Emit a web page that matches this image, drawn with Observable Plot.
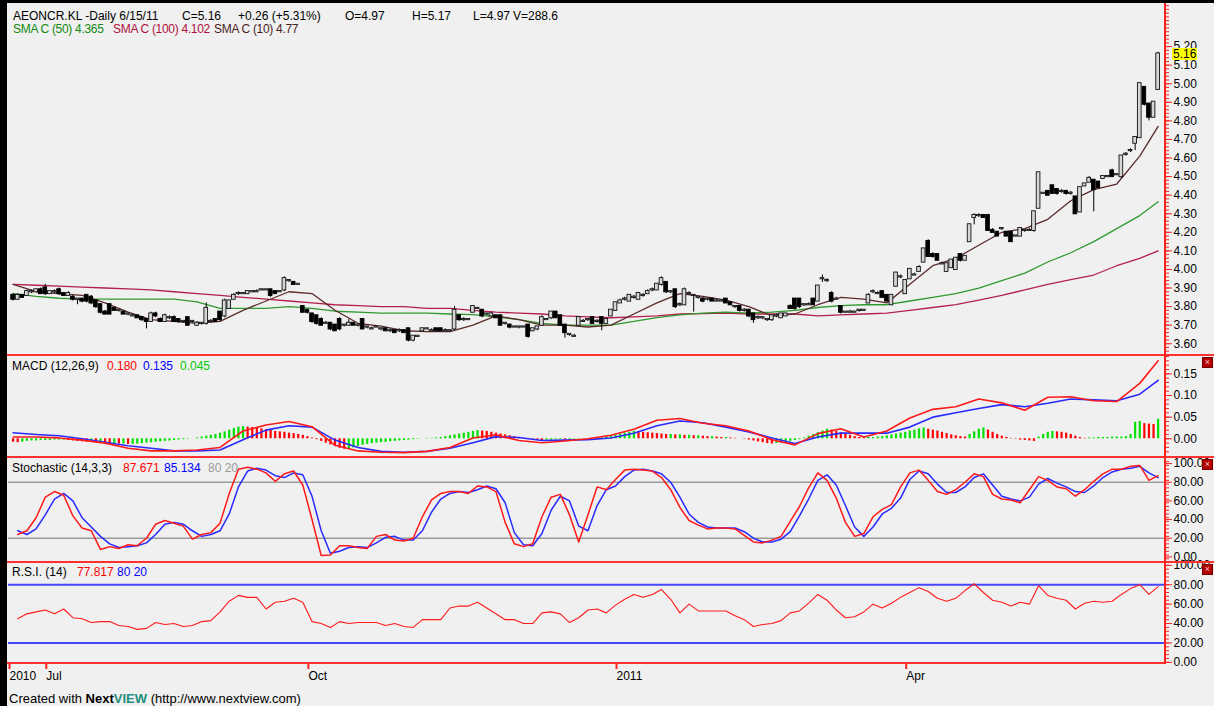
<!DOCTYPE html>
<html><head><meta charset="utf-8">
<script src="https://cdn.jsdelivr.net/npm/d3@7"></script>
<script src="https://cdn.jsdelivr.net/npm/@observablehq/plot@0.6"></script>
<style>
html,body{margin:0;padding:0;overflow:hidden;background:#f0f0f0;}
#chart{position:relative;width:1214px;height:706px;overflow:hidden;background:#f0f0f0;font-family:"Liberation Sans",Arial,sans-serif;font-size:12px;}
.t{position:absolute;white-space:nowrap;line-height:12px;font-size:12px;}
.bar{position:absolute;}
.xbox{position:absolute;width:9px;height:9px;background:#b00000;border:1px solid #700;color:#ffc0c0;font-size:9px;line-height:9px;text-align:center;}
</style></head>
<body><div id="chart"></div>
<script>
// ---------- DATA ----------
const opens = [
3.86,3.84,3.86,3.86,3.88,3.88,3.89,3.90,3.87,3.88,
3.89,3.87,3.86,3.85,3.84,3.84,3.86,3.85,3.83,3.81,
3.77,3.81,3.79,3.78,3.77,3.76,3.75,3.75,3.74,3.73,
3.72,3.76,3.73,3.72,3.74,3.74,3.73,3.72,3.74,3.72,
3.70,3.71,3.71,3.72,3.73,3.77,3.75,3.79,3.84,3.87,
3.87,3.87,3.88,3.88,3.89,3.89,3.89,3.88,3.88,3.89,
3.94,3.93,3.92,3.80,3.78,3.76,3.75,3.73,3.71,3.71,
3.70,3.73,3.70,3.70,3.71,3.70,3.73,3.69,3.68,3.69,
3.68,3.68,3.67,3.67,3.67,3.67,3.68,3.62,3.64,3.67,
3.68,3.67,3.68,3.68,3.67,3.67,3.68,3.75,3.73,3.73,
3.77,3.79,3.78,3.76,3.75,3.75,3.75,3.71,3.70,3.69,
3.69,3.69,3.70,3.67,3.68,3.70,3.73,3.74,3.77,3.75,
3.70,3.65,3.64,3.70,3.72,3.73,3.74,3.72,3.74,3.71,
3.75,3.78,3.82,3.84,3.83,3.85,3.84,3.86,3.87,3.89,
3.89,3.92,3.93,3.88,3.89,3.81,3.81,3.87,3.86,3.85,
3.84,3.84,3.84,3.83,3.83,3.84,3.82,3.80,3.80,3.78,
3.78,3.76,3.74,3.74,3.73,3.73,3.75,3.74,3.75,3.80,
3.84,3.84,3.81,3.81,3.84,3.83,3.95,3.94,3.87,3.84,
3.80,3.77,3.77,3.77,3.78,3.78,3.82,3.88,3.87,3.88,
3.86,3.81,3.91,3.96,3.87,3.95,3.97,3.99,4.04,4.15,
4.08,4.08,4.03,3.99,4.01,4.00,4.08,4.05,4.15,4.28,
4.29,4.29,4.29,4.21,4.20,4.22,4.20,4.20,4.18,4.18,
4.21,4.21,4.21,4.33,4.41,4.42,4.45,4.43,4.42,4.42,
4.41,4.39,4.31,4.45,4.47,4.48,4.47,4.49,4.50,4.53,
4.51,4.50,4.62,4.64,4.68,4.71,4.98,4.89,4.82,4.97];
const highs = [
3.87,3.87,3.86,3.89,3.89,3.89,3.90,3.92,3.88,3.89,
3.90,3.87,3.88,3.86,3.84,3.84,3.86,3.86,3.83,3.81,
3.78,3.81,3.79,3.78,3.77,3.76,3.76,3.75,3.74,3.73,
3.77,3.77,3.74,3.76,3.75,3.75,3.73,3.72,3.74,3.72,
3.72,3.71,3.82,3.73,3.73,3.77,3.84,3.83,3.87,3.88,
3.87,3.88,3.88,3.89,3.89,3.89,3.89,3.88,3.88,3.96,
3.94,3.93,3.92,3.80,3.78,3.76,3.75,3.74,3.72,3.71,
3.70,3.74,3.70,3.73,3.71,3.70,3.73,3.69,3.69,3.69,
3.68,3.68,3.68,3.67,3.68,3.67,3.68,3.64,3.64,3.68,
3.68,3.68,3.68,3.68,3.68,3.67,3.80,3.75,3.74,3.73,
3.80,3.79,3.78,3.76,3.77,3.75,3.75,3.71,3.70,3.69,
3.69,3.69,3.70,3.68,3.69,3.75,3.73,3.77,3.77,3.75,
3.70,3.65,3.65,3.74,3.73,3.73,3.74,3.73,3.74,3.73,
3.78,3.82,3.84,3.85,3.86,3.86,3.87,3.87,3.89,3.90,
3.92,3.96,3.93,3.88,3.89,3.82,3.90,3.88,3.86,3.85,
3.85,3.84,3.84,3.84,3.83,3.84,3.82,3.80,3.80,3.79,
3.78,3.76,3.75,3.74,3.73,3.75,3.76,3.76,3.76,3.81,
3.84,3.84,3.81,3.82,3.84,3.91,3.97,3.95,3.88,3.85,
3.80,3.77,3.78,3.77,3.78,3.78,3.87,3.89,3.88,3.88,
3.86,3.86,3.98,3.97,3.94,4.00,3.98,4.02,4.11,4.16,
4.09,4.08,4.04,4.03,4.05,4.06,4.08,4.07,4.24,4.30,
4.30,4.29,4.29,4.22,4.20,4.22,4.20,4.20,4.18,4.22,
4.21,4.22,4.31,4.52,4.41,4.42,4.45,4.43,4.43,4.42,
4.42,4.39,4.44,4.46,4.50,4.48,4.47,4.50,4.50,4.54,
4.51,4.61,4.63,4.65,4.71,5.00,4.98,4.89,4.90,5.17];
const lows = [
3.83,3.84,3.85,3.86,3.87,3.88,3.87,3.86,3.87,3.87,
3.86,3.86,3.86,3.83,3.81,3.82,3.82,3.81,3.79,3.76,
3.76,3.76,3.78,3.77,3.76,3.75,3.75,3.74,3.72,3.68,
3.72,3.74,3.72,3.72,3.73,3.72,3.71,3.71,3.70,3.71,
3.70,3.70,3.70,3.71,3.72,3.72,3.74,3.79,3.84,3.86,
3.87,3.87,3.88,3.88,3.89,3.89,3.85,3.87,3.88,3.88,
3.93,3.92,3.92,3.77,3.76,3.71,3.70,3.70,3.71,3.67,
3.67,3.67,3.69,3.70,3.70,3.69,3.68,3.68,3.68,3.69,
3.67,3.67,3.66,3.66,3.66,3.66,3.61,3.61,3.64,3.67,
3.68,3.67,3.67,3.67,3.67,3.67,3.67,3.72,3.72,3.73,
3.77,3.79,3.74,3.75,3.75,3.74,3.70,3.70,3.68,3.69,
3.68,3.69,3.63,3.67,3.67,3.70,3.73,3.73,3.74,3.70,
3.63,3.64,3.64,3.70,3.72,3.72,3.71,3.71,3.67,3.71,
3.75,3.78,3.82,3.83,3.83,3.84,3.84,3.85,3.87,3.88,
3.89,3.91,3.87,3.87,3.79,3.80,3.81,3.86,3.77,3.84,
3.82,3.83,3.83,3.83,3.83,3.82,3.81,3.79,3.77,3.77,
3.74,3.71,3.73,3.73,3.72,3.72,3.74,3.74,3.75,3.79,
3.78,3.79,3.80,3.81,3.81,3.83,3.93,3.93,3.82,3.84,
3.76,3.77,3.77,3.77,3.77,3.78,3.82,3.87,3.87,3.85,
3.83,3.81,3.91,3.95,3.87,3.95,3.97,3.99,4.04,4.07,
4.06,4.05,4.03,3.99,4.01,4.00,4.04,4.05,4.15,4.24,
4.28,4.28,4.21,4.20,4.18,4.21,4.18,4.15,4.18,4.18,
4.20,4.21,4.20,4.33,4.41,4.40,4.41,4.40,4.41,4.40,
4.40,4.30,4.31,4.45,4.47,4.31,4.44,4.49,4.50,4.50,
4.51,4.49,4.61,4.63,4.64,4.71,4.88,4.80,4.82,4.97];
const closes = [
3.84,3.86,3.85,3.88,3.88,3.89,3.87,3.87,3.88,3.88,
3.87,3.86,3.87,3.84,3.84,3.83,3.83,3.82,3.80,3.77,
3.76,3.76,3.78,3.78,3.76,3.76,3.75,3.74,3.73,3.72,
3.76,3.75,3.72,3.75,3.74,3.72,3.72,3.72,3.70,3.72,
3.71,3.71,3.79,3.72,3.72,3.73,3.83,3.83,3.86,3.87,
3.87,3.88,3.88,3.88,3.89,3.89,3.86,3.87,3.88,3.95,
3.94,3.92,3.92,3.77,3.77,3.72,3.71,3.70,3.71,3.68,
3.67,3.68,3.70,3.71,3.70,3.70,3.68,3.69,3.68,3.69,
3.68,3.67,3.67,3.66,3.67,3.66,3.62,3.64,3.64,3.68,
3.68,3.67,3.67,3.67,3.67,3.67,3.78,3.73,3.73,3.73,
3.80,3.79,3.75,3.76,3.76,3.74,3.70,3.71,3.69,3.69,
3.69,3.69,3.64,3.68,3.69,3.74,3.73,3.77,3.74,3.70,
3.66,3.65,3.64,3.74,3.72,3.73,3.71,3.72,3.71,3.73,
3.78,3.82,3.83,3.84,3.86,3.85,3.87,3.86,3.88,3.89,
3.92,3.95,3.88,3.88,3.80,3.81,3.89,3.87,3.86,3.85,
3.83,3.84,3.83,3.83,3.83,3.82,3.81,3.80,3.78,3.78,
3.75,3.73,3.74,3.74,3.73,3.75,3.75,3.76,3.76,3.79,
3.79,3.80,3.81,3.81,3.81,3.91,3.95,3.94,3.83,3.84,
3.77,3.77,3.77,3.77,3.78,3.78,3.86,3.88,3.87,3.85,
3.83,3.86,3.98,3.96,3.94,4.00,3.97,4.01,4.11,4.07,
4.07,4.05,4.03,4.03,4.05,4.06,4.05,4.07,4.24,4.29,
4.29,4.28,4.21,4.20,4.18,4.22,4.18,4.15,4.18,4.22,
4.21,4.21,4.31,4.52,4.41,4.40,4.41,4.41,4.42,4.41,
4.41,4.30,4.44,4.46,4.49,4.43,4.44,4.50,4.50,4.50,
4.51,4.61,4.62,4.64,4.71,5.00,4.89,4.82,4.90,5.16];

// moving averages, read every 5th trading day (last point = last day)
const sma10 = [3.92,3.88,3.87,3.86,3.82,3.77,3.73,3.72,3.71,3.72,3.78,3.83,3.88,3.87,3.78,3.71,3.695,3.67,3.665,3.665,3.70,3.75,3.73,3.70,3.70,3.69,3.70,3.76,3.82,3.87,3.855,3.835,3.80,3.75,3.76,3.81,3.85,3.84,3.82,3.92,4.02,4.06,4.13,4.20,4.22,4.27,4.37,4.43,4.46,4.61,4.77];
const sma50 = [3.87,3.855,3.845,3.84,3.84,3.84,3.84,3.84,3.825,3.79,3.79,3.79,3.80,3.79,3.775,3.77,3.765,3.765,3.765,3.76,3.757,3.745,3.73,3.71,3.70,3.70,3.70,3.72,3.74,3.755,3.765,3.77,3.765,3.77,3.78,3.795,3.805,3.81,3.81,3.83,3.85,3.87,3.90,3.94,3.98,4.04,4.09,4.15,4.22,4.29,4.365];
const sma100 = [3.92,3.915,3.91,3.905,3.90,3.895,3.89,3.88,3.87,3.86,3.85,3.84,3.83,3.82,3.81,3.805,3.80,3.80,3.79,3.79,3.78,3.77,3.765,3.76,3.75,3.745,3.74,3.745,3.75,3.76,3.762,3.765,3.76,3.76,3.76,3.75,3.755,3.76,3.765,3.78,3.795,3.81,3.835,3.86,3.89,3.92,3.945,3.97,4.02,4.06,4.10];

// MACD (12,26,9), read every 5th trading day
const macdLine = [0.004,0.004,0.002,-0.003,-0.010,-0.022,-0.028,-0.028,-0.026,-0.020,0.018,0.032,0.040,0.028,-0.015,-0.028,-0.031,-0.032,-0.029,-0.020,0.002,0.009,-0.004,-0.009,-0.005,0.000,0.008,0.022,0.043,0.047,0.036,0.030,0.018,-0.002,-0.014,0.012,0.023,0.004,0.018,0.048,0.068,0.074,0.092,0.083,0.066,0.096,0.097,0.088,0.086,0.128,0.180];
const signalLine = [0.014,0.010,0.007,0.000,-0.008,-0.016,-0.022,-0.028,-0.028,-0.026,-0.002,0.020,0.030,0.027,-0.003,-0.020,-0.029,-0.031,-0.029,-0.022,-0.009,0.005,0.003,-0.004,-0.003,-0.002,0.002,0.013,0.030,0.041,0.037,0.027,0.016,0.002,-0.011,0.004,0.013,0.013,0.013,0.027,0.050,0.060,0.070,0.079,0.074,0.082,0.092,0.090,0.088,0.103,0.135];
// MACD histogram, every trading day, in thousandths
const histogram = [
-8,-9,-8,-6,-5,-5,-4,-4,-4,-3,-3,-3,-4,-5,-6,-7,-8,-8,-9,-9,
-10,-11,-11,-12,-12,-13,-13,-12,-11,-10,-9,-8,-7,-6,-5,-4,-3,-2,-1,0,
2,4,6,8,10,13,16,20,24,27,28,27,26,25,23,21,19,17,16,15,
13,12,10,8,5,2,-2,-6,-10,-14,-18,-22,-24,-23,-21,-18,-15,-13,-11,-10,
-9,-8,-7,-6,-5,-4,-3,-2,-1,0,1,1,2,3,5,7,9,11,13,15,
17,19,18,17,15,13,11,9,7,5,3,1,0,-1,-2,-4,-3,-3,-2,-2,
-3,-2,-1,-1,0,0,1,1,2,5,7,9,11,13,15,17,16,15,14,13,
12,11,10,10,9,9,8,8,7,7,6,5,5,4,3,3,2,1,0,-1,
-3,-5,-7,-9,-11,-12,-11,-10,-8,-6,-4,-2,2,6,10,14,18,22,20,17,
14,11,8,5,3,2,3,3,4,5,7,9,11,13,15,18,20,23,25,22,
20,18,15,12,9,7,5,4,10,16,22,25,20,15,10,6,3,1,-1,-3,
-4,-5,-6,4,10,15,17,16,15,13,10,6,3,1,2,2,3,3,3,4,
4,4,5,10,38,40,35,34,33,45];

// Stochastic (14,3,3) and RSI (14), read every 2nd trading day (days 1,3,...,249)
const stochK = [24,28,42,64,70,66,44,31,28,8,11,9,13,12,20,35,39,36,33,19,24,26,36,68,94,96,94,90,81,89,92,77,40,1.5,2,12,12,10,9,22,24,18,17,20,43,61,68,70,70,68,76,75,70,37,14,11,14,43,64,67,45,16,45,75,72,83,93,94,93,92,85,72,53,39,34,30,31,31,30,23,16,15,18,22,38,54,74,90,82,63,37,22,25,43,51,56,75,90,93,82,70,67,72,80,89,86,67,62,61,58,72,86,82,75,73,65,72,81,89,94,94,97,98,82,87];
const stochD = [28,24,30,45,62,68,60,42,32,22,14,10,11,12,15,24,35,37,35,28,22,24,28,46,75,92,95,93,87,85,90,88,65,28,4,6,10,11,10,15,21,22,18,18,28,48,62,68,70,69,72,76,73,58,26,13,12,25,50,65,60,33,28,55,72,76,86,93,94,92,89,80,64,46,37,32,31,31,31,27,20,16,16,19,27,44,62,82,88,77,55,32,22,32,46,52,63,83,92,89,78,69,69,75,85,89,77,65,62,60,64,78,84,79,75,70,69,76,85,91,94,95,97,90,85];
const rsi = [45,50,52,54,50,55,46,45,41,42,42,38,37,34,35,41,39,40,37,38,42,43,52,63,69,67,67,55,62,63,66,62,42,40,36,42,40,41,41,41,38,40,37,36,44,44,44,56,58,58,62,56,50,44,44,40,40,51,52,50,41,46,54,55,51,59,65,70,67,70,75,65,51,60,53,53,53,53,48,44,37,39,40,43,51,53,61,70,64,54,46,47,52,60,56,61,67,72,77,73,66,63,66,74,81,72,64,62,58,62,60,79,69,66,64,55,61,63,62,63,70,76,80,70,78];

// axis ticks and labels
const priceTicks = [3.6,3.7,3.8,3.9,4.0,4.1,4.2,4.3,4.4,4.5,4.6,4.7,4.8,4.9,5.0,5.1,5.2];
const macdTicks = [0.00,0.05,0.10,0.15];
const oscTicks = [0,20,40,60,80,100];
const stochLevels = [80,20];
const rsiLevels = [80,20];
const xTickDays = [-1,7,64,131,194];
const xTickLabels = ["2010","Jul","Oct","2011","Apr"];

// ---------- BUILD ----------
const chart = document.getElementById("chart");
const W = 1214, ML = 8, MR = 49;
const xDomain = [-1, 250.6];
const FONT = '"Liberation Sans", Arial, sans-serif';
const f2 = d3.format(".2f");

const candles = opens.map((o, i) => ({i, o, h: highs[i], l: lows[i], c: closes[i]}));
const step5 = d3.range(0, 250, 5).concat([249]);
const smaRows = step5.map((i, k) => ({i, s10: sma10[k], s50: sma50[k], s100: sma100[k]}));
const macdRows = step5.map((i, k) => ({i, m: macdLine[k], s: signalLine[k]}));
const histRows = histogram.map((v, i) => ({i, v: v / 1000, up: i > 0 && v >= histogram[i - 1]}));
const oscRows = stochK.map((k, j) => ({i: 2 * j + 1, k, d: stochD[j], r: rsi[j]}));

function place(svg, top) {
  svg.style.position = "absolute"; svg.style.left = "0px"; svg.style.top = top + "px";
  chart.appendChild(svg);
  return svg;
}
function rightAxis(ticks, minor, fmt) {
  return [
    Plot.axisY(minor, {anchor: "right", tickSize: 3, stroke: "#ff2020", fill: "none", label: null}),
    Plot.axisY(ticks, {anchor: "right", tickSize: 6, tickPadding: 2, stroke: "#ff2020", fill: "black", tickFormat: fmt, label: null, fontSize: 12})
  ];
}
const baseStyle = {background: "transparent", fontFamily: FONT, fontSize: "12px", overflow: "visible", color: "black"};

// Price panel
const pricePlot = place(Plot.plot({
  width: W, height: 351, marginLeft: ML, marginRight: MR, marginTop: 0, marginBottom: 0,
  x: {domain: xDomain, axis: null},
  y: {domain: [3.542, 5.432]},
  style: baseStyle,
  marks: [
    ...rightAxis(priceTicks, d3.range(3.54, 5.44, 0.02), f2),
    Plot.line(smaRows, {x: "i", y: "s100", stroke: "#b3204e", strokeWidth: 1.3}),
    Plot.line(smaRows, {x: "i", y: "s50", stroke: "#2f9a2f", strokeWidth: 1.3}),
    Plot.line(smaRows, {x: "i", y: "s10", stroke: "#5c2b2b", strokeWidth: 1.3}),
    Plot.ruleX(candles, {x: "i", y1: "l", y2: "h", stroke: "#000", strokeWidth: 1}),
    Plot.rect(candles.filter(d => d.c >= d.o), {x1: d => d.i - 0.4, x2: d => d.i + 0.4, y1: "o", y2: "c", fill: "#d6d6d6", stroke: "#111", strokeWidth: 0.9, insetTop: -0.6, insetBottom: -0.6}),
    Plot.rect(candles.filter(d => d.c < d.o), {x1: d => d.i - 0.4, x2: d => d.i + 0.4, y1: "o", y2: "c", fill: "#000", stroke: "#000", strokeWidth: 0.9, insetTop: -0.6, insetBottom: -0.6})
  ]
}), 3);

// MACD panel
place(Plot.plot({
  width: W, height: 100, marginLeft: ML, marginRight: MR, marginTop: 0, marginBottom: 0,
  x: {domain: xDomain, axis: null},
  y: {domain: [-0.0386, 0.1924]},
  style: baseStyle,
  marks: [
    ...rightAxis(macdTicks, d3.range(-0.03, 0.195, 0.01), f2),
    Plot.ruleX(histRows.filter(d => d.up), {x: "i", y1: 0, y2: "v", stroke: "#00e000", strokeWidth: 2.2}),
    Plot.ruleX(histRows.filter(d => !d.up), {x: "i", y1: 0, y2: "v", stroke: "#ff0000", strokeWidth: 2.2}),
    Plot.line(macdRows, {x: "i", y: "s", stroke: "#2a2aff", strokeWidth: 1.6}),
    Plot.line(macdRows, {x: "i", y: "m", stroke: "#ff1a1a", strokeWidth: 1.6})
  ]
}), 355);

// Stochastic panel
place(Plot.plot({
  width: W, height: 103, marginLeft: ML, marginRight: MR, marginTop: 0, marginBottom: 0,
  x: {domain: xDomain, axis: null},
  y: {domain: [-3.86, 106.5]},
  style: baseStyle,
  marks: [
    ...rightAxis(oscTicks, d3.range(-2, 106, 4), f2),
    Plot.ruleY(stochLevels, {stroke: "#9a9a9a", strokeWidth: 1.6}),
    Plot.line(oscRows, {x: "i", y: "d", stroke: "#2a2aff", strokeWidth: 1.5}),
    Plot.line(oscRows, {x: "i", y: "k", stroke: "#ff1a1a", strokeWidth: 1.5})
  ]
}), 457);

// RSI panel + time axis
place(Plot.plot({
  width: W, height: 125, marginLeft: ML, marginRight: MR, marginTop: 0, marginBottom: 24,
  x: {domain: xDomain},
  y: {domain: [-1.17, 102.9]},
  style: baseStyle,
  marks: [
    ...rightAxis(oscTicks, d3.range(0, 103, 4), f2),
    Plot.axisX(xTickDays, {anchor: "bottom", tickSize: 6, strokeWidth: 2, stroke: "#ff2020", fill: "black", tickPadding: 2, textAnchor: "start", dx: 1, fontSize: 12, label: null, tickFormat: d => xTickLabels[xTickDays.indexOf(d)]}),
    Plot.ruleY(rsiLevels, {stroke: "#4646ff", strokeWidth: 2}),
    Plot.line(oscRows, {x: "i", y: "r", stroke: "#ff1a1a", strokeWidth: 1.1})
  ]
}), 562);

// ---------- chrome: borders, separators, labels ----------
function div(cls, css, html) {
  const e = document.createElement("div");
  e.className = cls; e.style.cssText = css; if (html != null) e.innerHTML = html;
  chart.appendChild(e); return e;
}
div("bar", "left:0;top:0;width:7px;height:706px;background:#000;");
div("bar", "left:0;top:0;width:1214px;height:3px;background:#000;");
[354, 456, 561].forEach(y => div("bar", `left:7px;top:${y}px;width:1207px;height:1.5px;background:#ff3030;`));
div("bar", "left:7px;top:662px;width:1159px;height:2px;background:#ff3030;");
div("bar", "left:1164px;top:3px;width:2px;height:661px;background:#ff2020;");
[357, 459, 564].forEach(y => div("xbox", `left:1202px;top:${y}px;`, "×"));

// current price tag
const lastClose = closes[closes.length - 1];
const yPrice = pricePlot.scale("y").apply(lastClose) + 3;
div("t", `left:1172px;top:${yPrice - 6}px;background:#ffff00;padding:0 1px;line-height:12px;`, f2(lastClose));

// header texts
const T = (x, y, color, txt, extra = "") => div("t", `left:${x}px;top:${y}px;color:${color};${extra}`, txt);
T(13, 10, "#000", "AEONCR.KL -Daily 6/15/11");
T(182, 10, "#000", "C=5.16");
T(238, 10, "#000", "+0.26 (+5.31%)");
T(345, 10, "#000", "O=4.97");
T(412, 10, "#000", "H=5.17");
T(473, 10, "#000", "L=4.97");
T(513, 10, "#000", "V=288.6");
const sp = "letter-spacing:-0.3px;";
T(13, 23, "#138a13", "SMA C (50) 4.365", sp);
T(113, 23, "#b0103c", "SMA C (100) 4.102", sp);
T(214, 23, "#4a1c1c", "SMA C (10) 4.77", sp);

T(12, 360, "#000", "MACD (12,26,9)");
T(107, 360, "#ff0000", "0.180");
T(143, 360, "#0000ff", "0.135");
T(180, 360, "#00cc00", "0.045");

T(12, 462, "#000", "Stochastic (14,3,3)");
T(123, 462, "#ff0000", "87.671");
T(164, 462, "#0000ff", "85.134");
T(208, 462, "#999999", "80 20");

T(12, 566, "#000", "R.S.I. (14)");
T(77, 566, "#ff0000", "77.817");
T(117, 566, "#0000ff", "80 20");

T(9, 692, "#000", 'Created with <b>Next</b><b style="color:#1f8f7f">VIEW</b> (http://www.nextview.com)', "font-size:13px;line-height:13px;");
</script>
</body></html>
